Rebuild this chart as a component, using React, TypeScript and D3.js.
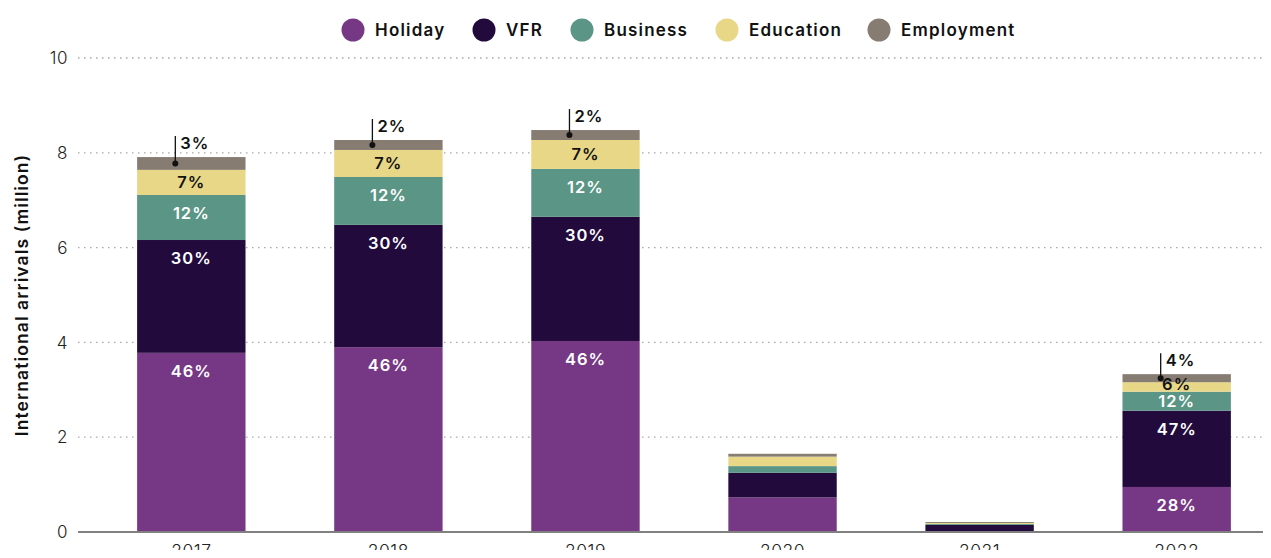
import React from "react";
import * as d3 from "d3";

const years = ["2017", "2018", "2019", "2020", "2021", "2022"];
const seriesNames = ["Holiday", "VFR", "Business", "Education", "Employment"];
const seriesColors = ["#763884", "#220B3C", "#5A9585", "#E8D787", "#877C72"];

// millions of arrivals per purpose
const holiday = [3.78, 3.9, 4.03, 0.73, 0.02, 0.95];
const vfr = [2.38, 2.58, 2.62, 0.52, 0.13, 1.61];
const business = [0.95, 1.01, 1.01, 0.14, 0.02, 0.4];
const education = [0.53, 0.57, 0.61, 0.2, 0.02, 0.2];
const employment = [0.27, 0.21, 0.21, 0.06, 0.02, 0.17];

// share labels ("" = not shown)
const holidayPct = ["46%", "46%", "46%", "", "", "28%"];
const vfrPct = ["30%", "30%", "30%", "", "", "47%"];
const businessPct = ["12%", "12%", "12%", "", "", "12%"];
const educationPct = ["7%", "7%", "7%", "", "", "6%"];
const employmentPct = ["3%", "2%", "2%", "", "", "4%"];

const yTicks = [0, 2, 4, 6, 8, 10];

const W = 1271;
const H = 558;
const font = "Inter, 'Open Sans', sans-serif";

export default function App() {
  const values = [holiday, vfr, business, education, employment];
  const pcts = [holidayPct, vfrPct, businessPct, educationPct, employmentPct];

  const table = years.map((y, i) => {
    const row: any = { year: y };
    seriesNames.forEach((s, j) => (row[s] = values[j][i]));
    return row;
  });
  const stacked = d3.stack().keys(seriesNames)(table);

  const x = d3
    .scaleBand()
    .domain(years)
    .range([78, 1290])
    .paddingInner(0.45)
    .paddingOuter(0.3);
  const y = d3.scaleLinear().domain([0, 10]).range([532, 58]);

  const bw = x.bandwidth();

  // legend circle centres
  const legendX = [353, 484, 582, 727, 879];

  return (
    <div style={{ margin: -8 }}>
      <svg width={W} height={H} style={{ display: "block", fontFamily: font }}>
        {/* grid */}
        {yTicks
          .filter((t) => t > 0)
          .map((t) => (
            <line
              key={t}
              x1={78}
              x2={W}
              y1={y(t)}
              y2={y(t)}
              stroke="#a8a8a8"
              strokeWidth={1.3}
              strokeDasharray="1.5 4.5"
            />
          ))}
        {yTicks.map((t) => (
          <text
            key={t}
            x={68}
            y={y(t)}
            dy="0.36em"
            textAnchor="end"
            fontSize={17}
            fontWeight={300}
            letterSpacing={0.5}
            fill="#222"
          >
            {t}
          </text>
        ))}
        <text
          transform={`translate(28,295) rotate(-90)`}
          textAnchor="middle"
          fontSize={17.5}
          fontWeight={600}
          letterSpacing={1.1}
          fill="#111"
        >
          International arrivals (million)
        </text>

        {/* bars */}
        {stacked.map((layer, j) => (
          <g key={layer.key} fill={seriesColors[j]}>
            {layer.map((d, i) => (
              <rect
                key={i}
                x={x(years[i])}
                y={y(d[1])}
                width={bw}
                height={Math.max(0, y(d[0]) - y(d[1]))}
              />
            ))}
          </g>
        ))}

        {/* segment labels */}
        {stacked.slice(0, 4).map((layer, j) =>
          layer.map((d, i) => {
            const label = pcts[j][i];
            if (!label) return null;
            const top = y(d[1]);
            const mid = (y(d[0]) + y(d[1])) / 2;
            return (
              <text
                key={`${j}-${i}`}
                x={(x(years[i]) as number) + bw / 2}
                y={Math.min(top + 18, mid) - (j === 3 && mid - top < 8 ? 3 : 0)}
                dy="0.36em"
                textAnchor="middle"
                fontSize={16.5}
                fontWeight={600}
                letterSpacing={1}
                fill={j === 3 ? "#111" : "#fff"}
              >
                {label}
              </text>
            );
          })
        )}

        {/* employment callouts */}
        {stacked[4].map((d, i) => {
          const label = employmentPct[i];
          if (!label) return null;
          const cx = (x(years[i]) as number) + bw / 2 - 16;
          const cy = (y(d[0]) + y(d[1])) / 2;
          const top = y(d[1]) - 21;
          return (
            <g key={i}>
              <line x1={cx} x2={cx} y1={cy} y2={top} stroke="#111" strokeWidth={1.3} />
              <circle cx={cx} cy={cy} r={3} fill="#111" />
              <text
                x={cx + 5}
                y={top + 13}
                fontSize={16.5}
                fontWeight={600}
                letterSpacing={1}
                fill="#111"
              >
                {label}
              </text>
            </g>
          );
        })}

        {/* x axis */}
        <line x1={78} x2={W} y1={532} y2={532} stroke="#808080" strokeWidth={2} />
        {years.map((yr) => (
          <text
            key={yr}
            x={(x(yr) as number) + bw / 2}
            y={557}
            textAnchor="middle"
            fontSize={17.5}
            fontWeight={300}
            letterSpacing={0.5}
            fill="#222"
          >
            {yr}
          </text>
        ))}

        {/* legend */}
        {seriesNames.map((s, j) => (
          <g key={s} transform={`translate(${legendX[j]},30)`}>
            <circle r={11.5} fill={seriesColors[j]} />
            <text
              x={22}
              dy="0.36em"
              fontSize={17}
              fontWeight={600}
              letterSpacing={1.2}
              fill="#111"
            >
              {s}
            </text>
          </g>
        ))}
      </svg>
    </div>
  );
}
